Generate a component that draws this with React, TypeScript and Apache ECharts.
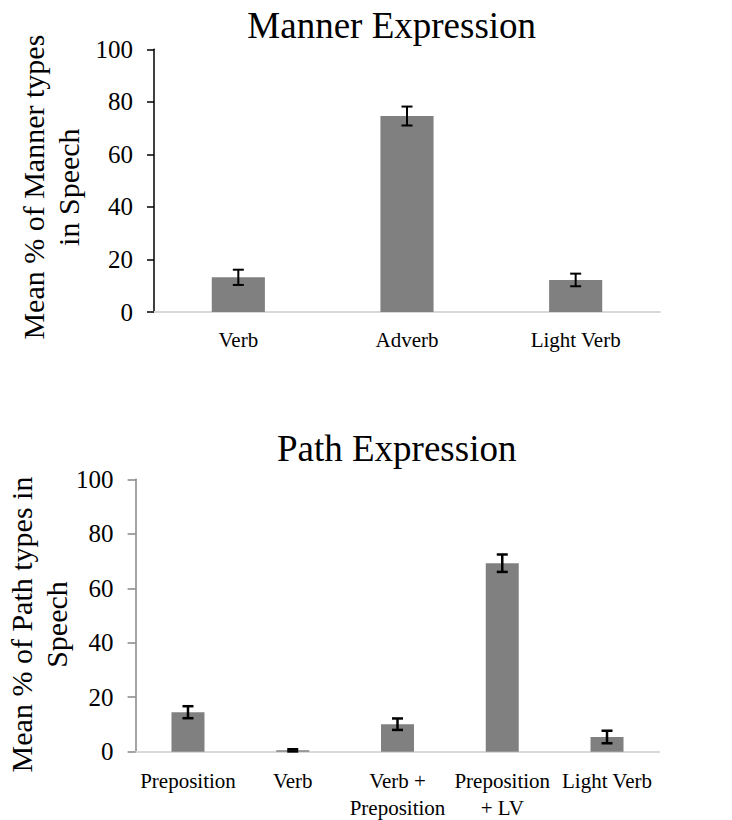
import React, { useEffect, useRef } from "react";
import * as echarts from "echarts";

const mannerCategories = ["Verb", "Adverb", "Light Verb"];
const mannerValues = [13.2, 74.6, 12.2];
const mannerErrors = [2.9, 3.6, 2.4];

const pathCategories = ["Preposition", "Verb", "Verb +\nPreposition", "Preposition\n+ LV", "Light Verb"];
const pathValues = [14.5, 0.5, 10.1, 69.2, 5.4];
const pathErrors = [2.2, 0.4, 2.1, 3.2, 2.3];

const yMin = 0;
const yMax = 100;
const yInterval = 20;

const FONT = "Liberation Serif";

function errData(values: number[], errors: number[]) {
  return values.map((v, i) => [i, v - errors[i], v + errors[i]]);
}

function makeErrorRender(lineWidth: number, halfCap: number) {
  return (params: any, api: any) => {
    const x = api.value(0);
    const lo = api.value(1);
    const hi = api.value(2);
    const pHi = api.coord([x, hi]);
    const pLo = api.coord([x, lo]);
    const style = { stroke: "#000", lineWidth };
    return {
      type: "group",
      children: [
        { type: "line", shape: { x1: pHi[0], y1: pHi[1], x2: pLo[0], y2: pLo[1] }, style },
        { type: "line", shape: { x1: pHi[0] - halfCap, y1: pHi[1], x2: pHi[0] + halfCap, y2: pHi[1] }, style },
        { type: "line", shape: { x1: pLo[0] - halfCap, y1: pLo[1], x2: pLo[0] + halfCap, y2: pLo[1] }, style },
      ],
    };
  };
}

export default function App() {
  const ref = useRef<HTMLDivElement>(null);
  useEffect(() => {
    if (!ref.current) return;
    const chart = echarts.init(ref.current, null, { renderer: "svg" });
    const yAxisCommon = {
      type: "value",
      min: yMin,
      max: yMax,
      interval: yInterval,
      splitLine: { show: false },
      nameLocation: "middle",
      nameRotate: 90,
      nameMoveOverlap: false,
    };
    chart.setOption({
      animation: false,
      textStyle: { fontFamily: FONT },
      graphic: [
        {
          type: "text",
          x: 391.7,
          y: 25,
          style: {
            text: "Manner Expression",
            fontFamily: FONT,
            fontSize: 37,
            fill: "#000",
            textAlign: "center",
            textVerticalAlign: "middle",
          },
        },
        {
          type: "text",
          x: 396.7,
          y: 448.3,
          style: {
            text: "Path Expression",
            fontFamily: FONT,
            fontSize: 37,
            fill: "#000",
            textAlign: "center",
            textVerticalAlign: "middle",
          },
        },
      ],
      grid: [
        { left: 154, right: 72, top: 49.3, height: 262.7, outerBoundsMode: "none", containLabel: false },
        { left: 135.6, right: 72.6, top: 479.3, height: 272.4, outerBoundsMode: "none", containLabel: false },
      ],
      xAxis: [
        {
          type: "category",
          gridIndex: 0,
          data: mannerCategories,
          axisLine: { lineStyle: { color: "#d9d9d9", width: 2 } },
          axisTick: { show: false },
          axisLabel: { color: "#000", fontSize: 21, fontFamily: FONT, margin: 17, interval: 0 },
        },
        {
          type: "category",
          gridIndex: 1,
          data: pathCategories,
          axisLine: { lineStyle: { color: "#d9d9d9", width: 2 } },
          axisTick: { show: false },
          axisLabel: { color: "#000", fontSize: 21, fontFamily: FONT, margin: 16, lineHeight: 27, interval: 0 },
        },
      ],
      yAxis: [
        {
          ...yAxisCommon,
          gridIndex: 0,
          name: "Mean % of Manner types\nin Speech",
          nameGap: 68,
          nameTextStyle: { color: "#000", fontSize: 30, fontFamily: FONT, lineHeight: 35, padding: [0, 13, 0, 0] },
          axisLine: { show: true, lineStyle: { color: "#000", width: 1.5 } },
          axisTick: { show: true, length: 7, lineStyle: { color: "#000", width: 1.5 } },
          axisLabel: { color: "#000", fontSize: 25, fontFamily: FONT, margin: 21 },
        },
        {
          ...yAxisCommon,
          gridIndex: 1,
          name: "Mean % of Path types in\nSpeech",
          nameGap: 62,
          nameTextStyle: { color: "#000", fontSize: 30, fontFamily: FONT, lineHeight: 35, padding: [0, 18, 0, 0] },
          axisLine: { show: true, lineStyle: { color: "#868686", width: 1.5 } },
          axisTick: { show: true, length: 8, lineStyle: { color: "#868686", width: 1.5 } },
          axisLabel: { color: "#000", fontSize: 25, fontFamily: FONT, margin: 22 },
        },
      ],
      series: [
        {
          type: "bar",
          xAxisIndex: 0,
          yAxisIndex: 0,
          data: mannerValues,
          barWidth: "31.5%",
          itemStyle: { color: "#808080" },
        },
        {
          type: "custom",
          xAxisIndex: 0,
          yAxisIndex: 0,
          data: errData(mannerValues, mannerErrors),
          encode: { x: 0, y: [1, 2] },
          renderItem: makeErrorRender(2, 5.5),
          z: 10,
        },
        {
          type: "bar",
          xAxisIndex: 1,
          yAxisIndex: 1,
          data: pathValues,
          barWidth: "31.5%",
          itemStyle: { color: "#808080" },
        },
        {
          type: "custom",
          xAxisIndex: 1,
          yAxisIndex: 1,
          data: errData(pathValues, pathErrors),
          encode: { x: 0, y: [1, 2] },
          renderItem: makeErrorRender(2.5, 5.5),
          z: 10,
        },
      ],
    });
    return () => chart.dispose();
  }, []);
  return (
    <div
      ref={ref}
      style={{ position: "absolute", left: 0, top: 0, width: 732, height: 820 }}
    />
  );
}
